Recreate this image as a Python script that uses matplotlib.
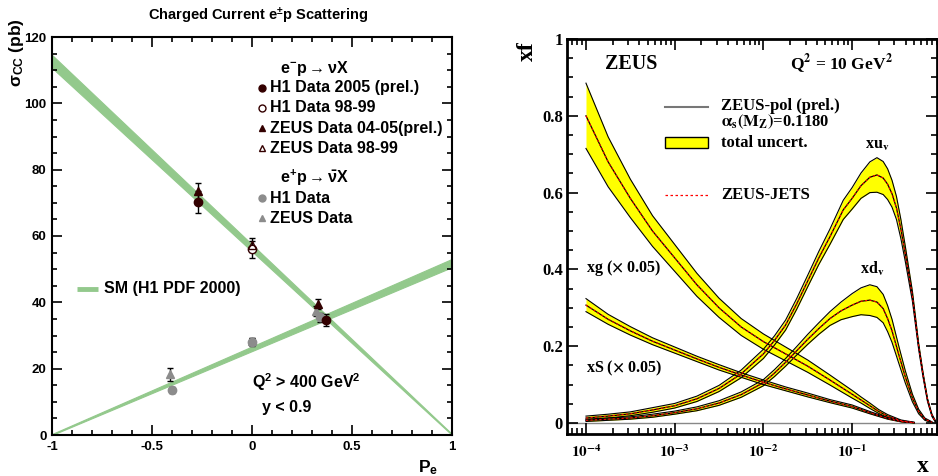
import numpy as np
import matplotlib
matplotlib.use("Agg")
import matplotlib.pyplot as plt
from matplotlib.ticker import MultipleLocator, FixedLocator, LogLocator, NullFormatter

plt.rcParams['font.family'] = ['Liberation Sans', 'DejaVu Sans']
plt.rcParams['font.weight'] = 'bold'
plt.rcParams['axes.unicode_minus'] = False
plt.rcParams['mathtext.fontset'] = 'custom'
plt.rcParams['mathtext.rm'] = 'Liberation Sans:bold'
plt.rcParams['mathtext.bf'] = 'Liberation Sans:bold'
plt.rcParams['mathtext.it'] = 'Liberation Sans:bold:italic'
plt.rcParams['mathtext.sf'] = 'Liberation Sans:bold'
plt.rcParams['mathtext.default'] = 'bf'

# ---------------- left panel data: sigma_CC vs P_e ----------------
sm_pe = [-1.0, 1.0]
sm_em_lo = [110.7, 0.0]     # e-p -> nu X band
sm_em_hi = [114.6, 0.3]
sm_ep_lo = [0.0, 50.6]      # e+p -> nubar X band
sm_ep_hi = [0.3, 53.1]

h1_05_pe = [-0.27, 0.37]
h1_05_sig = [70.3, 34.6]
h1_05_err = [3.3, 1.8]

h1_99m_pe = [0.0]
h1_99m_sig = [56.0]
h1_99m_err = [2.6]

zeus_0405_pe = [-0.27, 0.33]
zeus_0405_sig = [73.5, 39.5]
zeus_0405_err = [2.5, 1.5]

zeus_99m_pe = [0.0]
zeus_99m_sig = [57.3]
zeus_99m_err = [2.0]

h1_ep_pe = [-0.40, 0.0, 0.34]
h1_ep_sig = [13.6, 28.0, 35.5]
h1_ep_err = [1.0, 1.2, 1.3]

zeus_ep_pe = [-0.41, 0.0, 0.32]
zeus_ep_sig = [18.3, 28.3, 37.3]
zeus_ep_err = [1.9, 1.0, 1.5]

# ---------------- right panel data: ZEUS PDFs at Q2 = 10 GeV2 ----------------
logx_uv = [-4.0, -3.75, -3.5, -3.25, -3.0, -2.75, -2.5, -2.25, -2.0, -1.875, -1.75,
           -1.625, -1.5, -1.375, -1.25, -1.1, -1.0, -0.9, -0.8, -0.72, -0.65, -0.6,
           -0.55, -0.5, -0.45, -0.4, -0.32, -0.25, -0.2, -0.15, -0.1, -0.06]
uv = [0.013, 0.018, 0.024, 0.034, 0.045, 0.063, 0.090, 0.128, 0.180, 0.215, 0.255,
      0.310, 0.370, 0.430, 0.485, 0.555, 0.585, 0.618, 0.640, 0.646, 0.638, 0.622,
      0.597, 0.560, 0.505, 0.440, 0.330, 0.200, 0.125, 0.060, 0.020, 0.004]
uv_err = [0.005, 0.005, 0.005, 0.006, 0.006, 0.007, 0.008, 0.010, 0.012, 0.012, 0.013,
          0.014, 0.015, 0.017, 0.020, 0.025, 0.028, 0.033, 0.040, 0.045, 0.043, 0.040,
          0.035, 0.030, 0.025, 0.020, 0.013, 0.008, 0.006, 0.004, 0.003, 0.002]

logx_dv = [-4.0, -3.75, -3.5, -3.25, -3.0, -2.75, -2.5, -2.25, -2.0, -1.875, -1.75,
           -1.625, -1.5, -1.375, -1.25, -1.125, -1.0, -0.9, -0.8, -0.72, -0.65, -0.6,
           -0.55, -0.47, -0.4, -0.32, -0.25, -0.18, -0.1]
dv = [0.007, 0.010, 0.013, 0.019, 0.027, 0.037, 0.052, 0.074, 0.105, 0.130, 0.158,
      0.188, 0.218, 0.246, 0.272, 0.292, 0.307, 0.317, 0.320, 0.315, 0.298, 0.272,
      0.240, 0.175, 0.120, 0.065, 0.030, 0.010, 0.002]
dv_err = [0.003, 0.003, 0.003, 0.004, 0.004, 0.005, 0.006, 0.007, 0.008, 0.009, 0.010,
          0.011, 0.013, 0.015, 0.018, 0.023, 0.030, 0.035, 0.040, 0.040, 0.037, 0.034,
          0.030, 0.022, 0.016, 0.010, 0.006, 0.003, 0.001]

logx_g = [-4.0, -3.75, -3.5, -3.25, -3.0, -2.75, -2.5, -2.25, -2.0, -1.75, -1.5,
          -1.25, -1.0, -0.9, -0.8, -0.7, -0.6, -0.45, -0.3]
xg = [0.800, 0.680, 0.585, 0.500, 0.430, 0.360, 0.300, 0.250, 0.212, 0.180, 0.148,
      0.112, 0.075, 0.060, 0.045, 0.030, 0.018, 0.006, 0.001]
xg_err = [0.085, 0.065, 0.050, 0.040, 0.035, 0.030, 0.025, 0.022, 0.020, 0.018, 0.016,
          0.013, 0.010, 0.008, 0.007, 0.005, 0.004, 0.002, 0.001]

logx_s = [-4.0, -3.75, -3.5, -3.25, -3.0, -2.75, -2.5, -2.25, -2.0, -1.75, -1.5,
          -1.25, -1.0, -0.8, -0.6, -0.45, -0.3]
xs = [0.307, 0.270, 0.240, 0.213, 0.190, 0.167, 0.145, 0.125, 0.106, 0.089, 0.073,
      0.057, 0.043, 0.027, 0.012, 0.004, 0.001]
xs_err = [0.017, 0.013, 0.011, 0.009, 0.008, 0.007, 0.007, 0.006, 0.006, 0.005, 0.005,
          0.004, 0.004, 0.003, 0.002, 0.001, 0.0005]

green = '#93c98c'
dark = '#330000'
grey = '#8c8c8c'

fig = plt.figure(figsize=(9.38, 4.76), dpi=100)

# ====================== left ======================
ax = fig.add_axes([52 / 938, 1 - 435 / 476, 400 / 938, 398 / 476])
ax.fill_between(sm_pe, sm_em_lo, sm_em_hi, color=green, lw=0.8)
ax.fill_between(sm_pe, sm_ep_lo, sm_ep_hi, color=green, lw=0.8)

eb = dict(ecolor='black', elinewidth=1, capsize=2, capthick=1, ls='none', ms=6)
ax.errorbar(h1_ep_pe, h1_ep_sig, yerr=h1_ep_err, fmt='o', color=grey, mec=grey, **eb)
ax.errorbar(zeus_ep_pe, zeus_ep_sig, yerr=zeus_ep_err, fmt='^', color=grey, mec=grey, **eb)
ax.errorbar(h1_99m_pe, h1_99m_sig, yerr=h1_99m_err, fmt='o', mfc='white', mec=dark, **eb)
ax.errorbar(zeus_99m_pe, zeus_99m_sig, yerr=zeus_99m_err, fmt='^', mfc='none', mec=dark, **eb)
ax.errorbar(zeus_0405_pe, zeus_0405_sig, yerr=zeus_0405_err, fmt='^', color=dark, mec=dark, **eb)
ax.errorbar(h1_05_pe, h1_05_sig, yerr=h1_05_err, fmt='o', color=dark, mec=dark, **eb)

ax.set_xlim(-1, 1)
ax.set_ylim(0, 120)
ax.xaxis.set_major_locator(FixedLocator([-1, -0.5, 0, 0.5, 1]))
ax.set_xticklabels(['-1', '-0.5', '0', '0.5', '1'])
ax.xaxis.set_minor_locator(MultipleLocator(0.1))
ax.yaxis.set_major_locator(MultipleLocator(20))
ax.yaxis.set_minor_locator(MultipleLocator(5))
ax.tick_params(which='both', direction='in', top=True, right=True, width=1.2,
               labelsize=9.5, pad=4)
ax.tick_params(which='major', length=7)
ax.tick_params(which='minor', length=3.5)
for s in ax.spines.values():
    s.set_linewidth(1.5)

fs = 11.5
ax.text(0.655, 0.922, r'$\mathbf{e^{-}p \rightarrow \nu X}$', transform=ax.transAxes,
        fontsize=fs, ha='center', va='center')
rows = [(0.872, 'o', dark, dark, 'H1 Data 2005 (prel.)'),
        (0.822, 'o', 'white', dark, 'H1 Data 98-99'),
        (0.771, '^', dark, dark, 'ZEUS Data 04-05(prel.)'),
        (0.721, '^', 'white', dark, 'ZEUS Data 98-99'),
        (0.595, 'o', grey, grey, 'H1 Data'),
        (0.545, '^', grey, grey, 'ZEUS Data')]
for fy, m, fc, ec, lab in rows:
    ax.plot([0.525], [fy], marker=m, mfc=fc, mec=ec, ms=5, transform=ax.transAxes,
            clip_on=False, ls='none')
    ax.text(0.545, fy, lab, transform=ax.transAxes, fontsize=fs, va='center')
ax.text(0.655, 0.646, r'$\mathbf{e^{+}p \rightarrow \bar{\nu} X}$', transform=ax.transAxes,
        fontsize=fs, ha='center', va='center')
ax.plot([0.0625, 0.115], [0.367, 0.367], color=green, lw=3.5, transform=ax.transAxes,
        solid_capstyle='butt')
ax.text(0.13, 0.367, 'SM (H1 PDF 2000)', transform=ax.transAxes, fontsize=fs, va='center')
ax.text(0.50, 0.133, r'Q$^{2}$ > 400 GeV$^{2}$', transform=ax.transAxes, fontsize=fs,
        va='center')
ax.text(0.525, 0.070, 'y < 0.9', transform=ax.transAxes, fontsize=fs, va='center')

fig.text(258 / 938, 1 - 16 / 476, r'Charged Current e$^{\pm}$p Scattering', fontsize=10.5,
         ha='center', va='center')
fig.text(17 / 938, 1 - 53 / 476, r'$\sigma_{CC}$ (pb)', fontsize=12.5, rotation=90,
         ha='center', va='center')
fig.text(428 / 938, 1 - 468 / 476, r'P$_{e}$', fontsize=12.5, ha='center', va='center')

# ====================== right ======================
serif = 'Liberation Serif'
ax2 = fig.add_axes([567 / 938, 1 - 434 / 476, 370 / 938, 395 / 476])
ax2.set_xscale('log')

curves = [(logx_s, xs, xs_err), (logx_g, xg, xg_err), (logx_dv, dv, dv_err),
          (logx_uv, uv, uv_err)]
for lx, c, e in curves:
    x = 10 ** np.array(lx)
    c = np.array(c)
    e = np.array(e)
    ax2.fill_between(x, c - e, c + e, color='#ffff00', lw=0, zorder=2)
    ax2.plot(x, c + e, color='black', lw=0.8, zorder=3)
    ax2.plot(x, c - e, color='black', lw=0.8, zorder=3)
for lx, c, e in curves:
    x = 10 ** np.array(lx)
    ax2.plot(x, c, color='black', lw=0.9, zorder=4)
    ax2.plot(x, c, color='red', lw=0.8, dashes=(2, 2), zorder=5)

ax2.axhline(0, color='#888888', lw=1, zorder=1)
ax2.set_xlim(10 ** -4.214, 10 ** -0.043)
ax2.set_ylim(-0.0286, 1.0)
ax2.xaxis.set_major_locator(FixedLocator([1e-4, 1e-3, 1e-2, 1e-1]))
ax2.set_xticklabels([r'$\mathbf{10^{-4}}$', r'$\mathbf{10^{-3}}$', r'$\mathbf{10^{-2}}$',
                     r'$\mathbf{10^{-1}}$'], math_fontfamily='stix', fontsize=11)
ax2.xaxis.set_minor_locator(LogLocator(base=10, subs=np.arange(2, 10), numticks=20))
ax2.xaxis.set_minor_formatter(NullFormatter())
ax2.yaxis.set_major_locator(FixedLocator([0, 0.2, 0.4, 0.6, 0.8, 1.0]))
ax2.set_yticklabels(['0', '0.2', '0.4', '0.6', '0.8', '1'], fontfamily=serif, fontsize=12)
ax2.yaxis.set_minor_locator(MultipleLocator(0.05))
ax2.tick_params(which='both', direction='in', top=True, right=True, width=1.2)
ax2.tick_params(which='major', length=8)
ax2.tick_params(which='minor', length=4)
ax2.tick_params(axis='x', pad=7)
ax2.tick_params(axis='y', pad=3)
for s in ax2.spines.values():
    s.set_linewidth(2)

tr = ax2.transAxes
ax2.text(0.103, 0.937, 'ZEUS', transform=tr, fontsize=14.5, fontfamily=serif, va='center')
ax2.text(0.603, 0.937, r'Q$^{2}$ = 10 GeV$^{2}$', transform=tr, fontsize=12.5,
         fontfamily=serif, math_fontfamily='stix', va='center')
ax2.plot([0.265, 0.381], [0.828, 0.828], color='#777777', lw=1.5, transform=tr)
ax2.text(0.416, 0.830, 'ZEUS-pol (prel.)', transform=tr, fontsize=12, fontfamily=serif,
         va='center')
ax2.text(0.416, 0.790, r'$\alpha_{s}(M_{Z})$=0.1180', transform=tr, fontsize=12,
         fontfamily=serif, math_fontfamily='stix', va='center')
ax2.add_patch(plt.Rectangle((0.265, 0.724), 0.116, 0.028, transform=tr, facecolor='#ffff00',
                            edgecolor='black', lw=1))
ax2.text(0.416, 0.737, 'total uncert.', transform=tr, fontsize=12, fontfamily=serif,
         va='center')
ax2.plot([0.265, 0.381], [0.605, 0.605], color='red', lw=0.9, dashes=(2, 2), transform=tr)
ax2.text(0.416, 0.605, 'ZEUS-JETS', transform=tr, fontsize=12, fontfamily=serif,
         va='center')
ax2.text(0.838, 0.732, r'xu$_{v}$', transform=tr, fontsize=11.5, fontfamily=serif,
         math_fontfamily='stix', ha='center', va='center')
ax2.text(0.825, 0.418, r'xd$_{v}$', transform=tr, fontsize=11.5, fontfamily=serif,
         math_fontfamily='stix', ha='center', va='center')
ax2.text(0.051, 0.420, r'xg ($\times$ 0.05)', transform=tr, fontsize=11.5, fontfamily=serif,
         math_fontfamily='stix', va='center')
ax2.text(0.051, 0.167, r'xS ($\times$ 0.05)', transform=tr, fontsize=11.5, fontfamily=serif,
         math_fontfamily='stix', va='center')

fig.text(527 / 938, 1 - 51 / 476, 'xf', fontsize=17, fontfamily=serif, rotation=90,
         ha='center', va='center')
fig.text(923 / 938, 1 - 466 / 476, 'x', fontsize=17, fontfamily=serif, ha='center',
         va='center')

fig.savefig('out.png', dpi=100)
